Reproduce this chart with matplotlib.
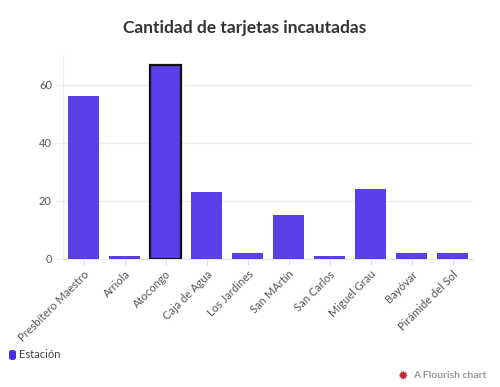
import matplotlib
matplotlib.use("Agg")
import matplotlib.pyplot as plt
from matplotlib.patches import FancyBboxPatch

categories = ["Presbítero Maestro", "Arriola", "Atocongo", "Caja de Agua", "Los Jardines",
              "San MArtín", "San Carlos", "Miguel Grau", "Bayóvar", "Pirámide del Sol"]
values = [56, 1, 67, 23, 2, 15, 1, 24, 2, 2]
highlight = "Atocongo"
yticks = [0, 20, 40, 60]
series_name = "Estación"
title = "Cantidad de tarjetas incautadas"

plt.rcParams['font.family'] = ['Lato', 'DejaVu Sans']
color = '#5a3fe8'

fig = plt.figure(figsize=(5, 3.87), dpi=100)
ax = fig.add_axes([0.126, 0.331, 0.82, 0.527])

x = list(range(len(categories)))
bars = ax.bar(x, values, width=0.75, color=color, zorder=3)
for b, c in zip(bars, categories):
    if c == highlight:
        b.set_edgecolor('#111111')
        b.set_linewidth(1.6)

ax.set_xlim(-0.5, len(categories) - 0.5)
ax.set_ylim(0, 70.3)
ax.set_yticks(yticks)
ax.set_yticklabels([str(v) for v in yticks], fontsize=8, color='#555555')
ax.set_xticks(x)
ax.set_xticklabels(categories, rotation=45, ha='right', rotation_mode='anchor',
                   fontsize=8, color='#555555')
ax.grid(axis='y', color='#eeeeee', linewidth=1, zorder=0)
for s in ['top', 'right']:
    ax.spines[s].set_visible(False)
ax.spines['left'].set_color('#eeeeee')
ax.spines['bottom'].set_color('#e6e6e6')
ax.tick_params(axis='x', length=4, color='#dddddd', pad=3)
ax.tick_params(axis='y', length=6, color='#eeeeee', pad=2)

fig.text(0.49, 0.928, title, ha='center', va='center', fontsize=12.5,
         fontweight='bold', color='#333333')

# legend
fig.patches.append(FancyBboxPatch((9/500, 1 - 360/387), 7/500, 10/387,
                                  boxstyle="round,pad=0,rounding_size=0.006",
                                  transform=fig.transFigure, facecolor='#4a2ee8',
                                  edgecolor='none'))
fig.text(19/500, 1 - 355/387, series_name, ha='left', va='center', fontsize=8, color='#444444')

# footer
fig.text(0.972, 1 - 376/387, "A Flourish chart", ha='right', va='center', fontsize=7.5,
         fontweight='bold', color='#999999')
fig.text(0.806, 1 - 376/387, "✹", ha='center', va='center', fontsize=9, color='#c0262d',
         family=['DejaVu Sans'])

fig.savefig("out.png", dpi=100)
